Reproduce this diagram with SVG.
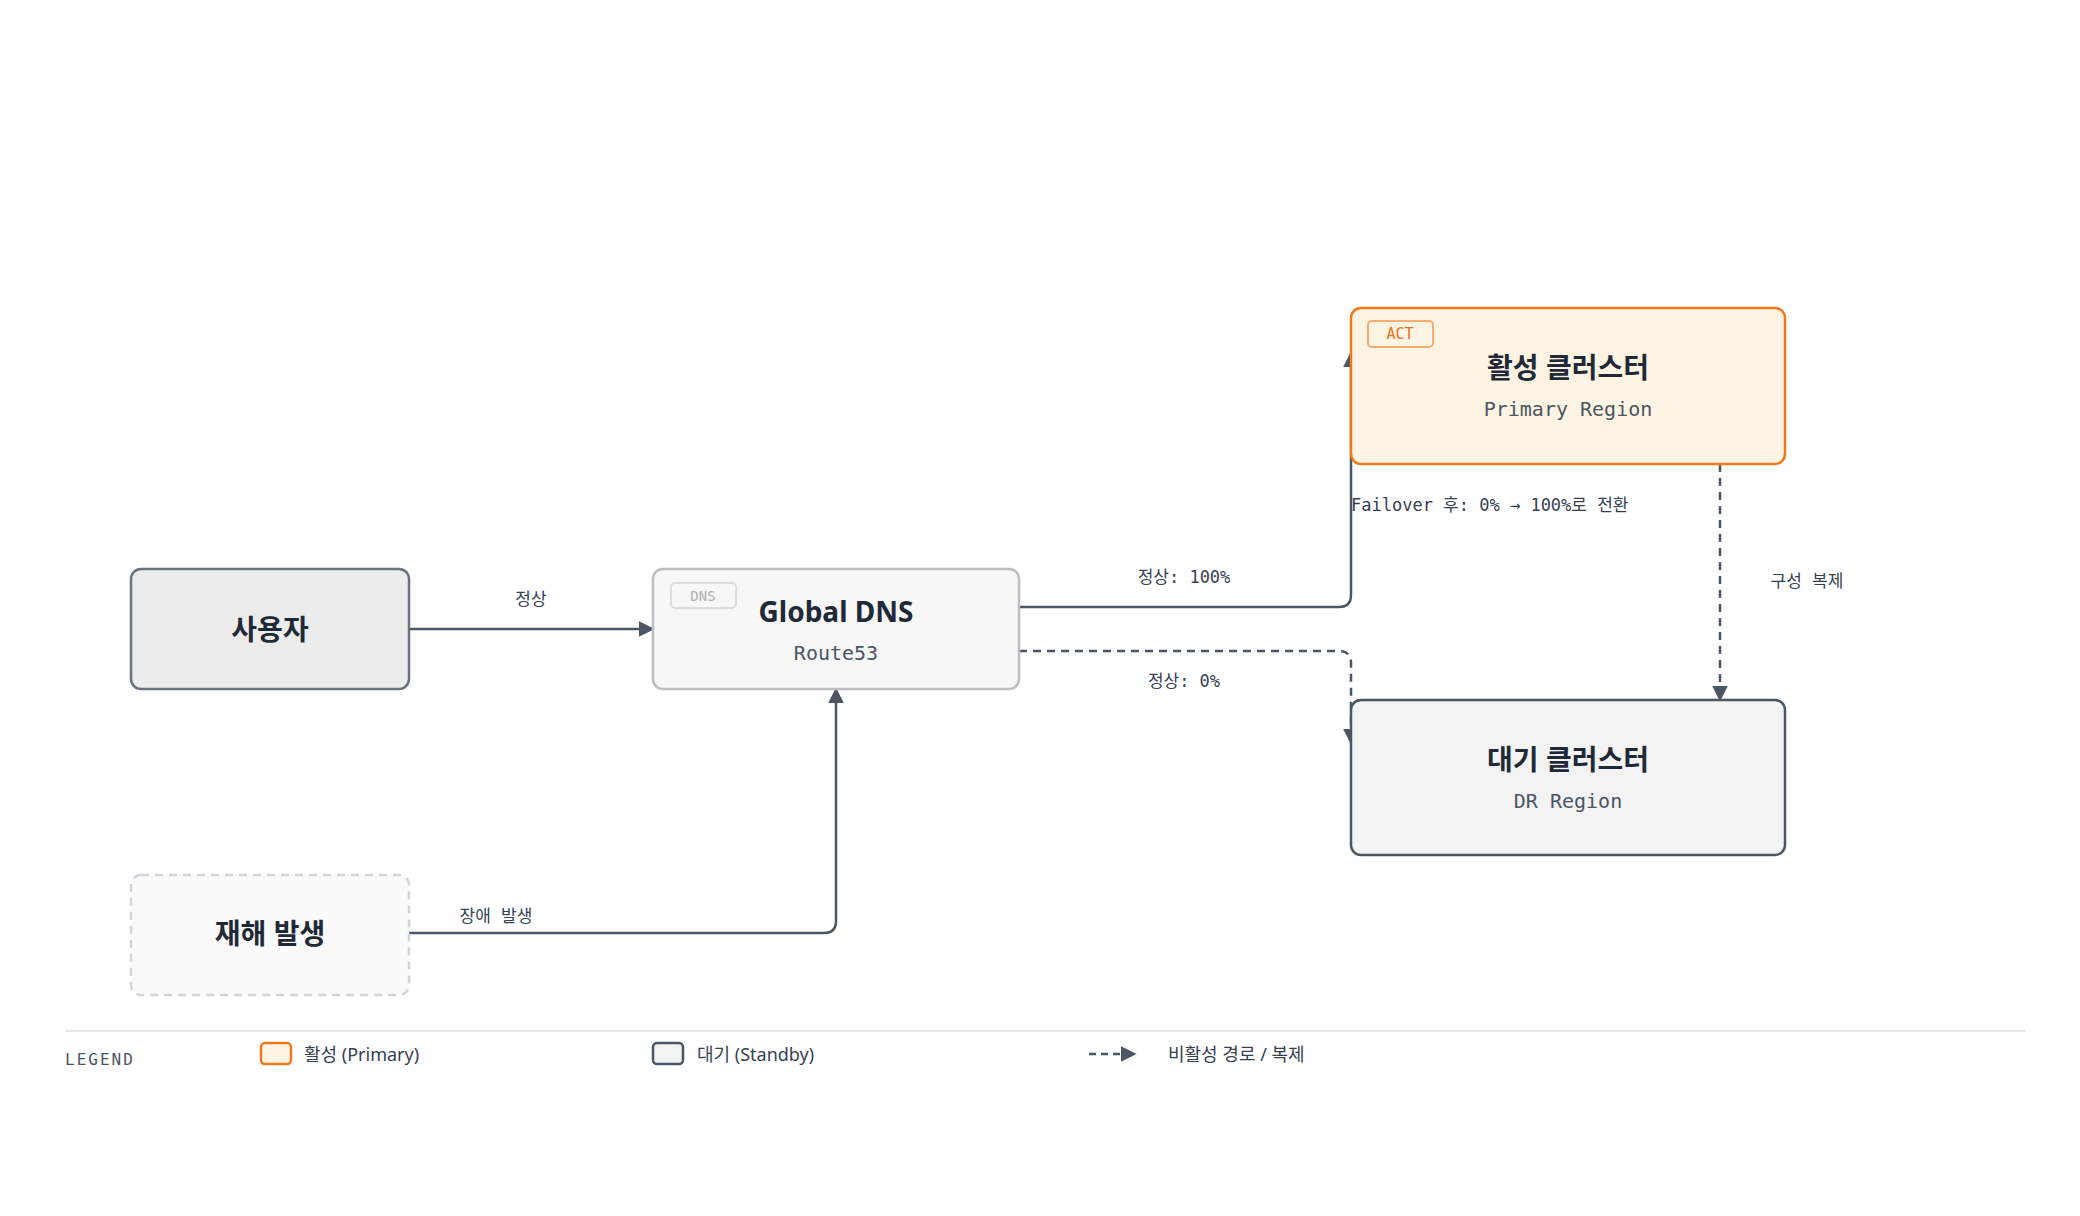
<svg xmlns="http://www.w3.org/2000/svg" width="2080" height="1216" viewBox="0 0 2080 1216">
<style>
.t{font-family:"Noto Sans","Noto Sans CJK KR",sans-serif;font-weight:700;font-size:28px;fill:#1f2937;text-anchor:middle;dominant-baseline:central}
.s{font-family:"DejaVu Sans Mono","Noto Sans CJK KR",monospace;font-size:20px;fill:#4b5563;text-anchor:middle;dominant-baseline:central}
.l{font-family:"DejaVu Sans Mono","Noto Sans CJK KR",monospace;font-size:17px;fill:#374151;text-anchor:middle;dominant-baseline:central}
.c{fill:none;stroke:#4b5563;stroke-width:2.5}
.d{stroke-dasharray:8 6}
.lg{font-family:"Noto Sans","Noto Sans CJK KR",sans-serif;font-size:18px;fill:#374151;dominant-baseline:central}
</style>
<defs><marker id="b" viewBox="0 0 10 10" refX="9" refY="5" markerWidth="16" markerHeight="16" orient="auto" markerUnits="userSpaceOnUse"><path d="M0 0L10 5L0 10z" fill="#4b5563"/></marker></defs>
<rect width="2080" height="1216" fill="#fff"/>
<g id="connectors">
<path class="c" d="M409 629H653" marker-end="url(#b)"/>
<text class="l" x="531" y="599">정상</text>
<path class="c" d="M1019 607H1339q12 0 12-12V353" marker-end="url(#b)"/>
<text class="l" x="1184" y="577">정상: 100%</text>
<text class="l" x="1351" y="505" style="text-anchor:start">Failover 후: 0% → 100%로 전환</text>
<path class="c d" d="M1019 651H1339q12 0 12 12V743" marker-end="url(#b)"/>
<text class="l" x="1184" y="681">정상: 0%</text>
<path class="c d" d="M1720 464V700" marker-end="url(#b)"/>
<text class="l" x="1807" y="581">구성 복제</text>
<path class="c" d="M409 933H824q12 0 12-12V689" marker-end="url(#b)"/>
<text class="l" x="496" y="916">장애 발생</text>
</g>
<g id="user"><rect x="131" y="569" width="278" height="120" rx="10" fill="#ececec" stroke="#6b7280" stroke-width="2.5"/><text class="t" x="270" y="629">사용자</text></g>
<g id="dns"><rect x="653" y="569" width="366" height="120" rx="10" fill="#f7f7f7" stroke="#bdbdc2" stroke-width="2.5"/>
<rect x="671" y="583" width="65" height="25" rx="4" fill="none" stroke="#dcdcdc" stroke-width="2"/><text class="l" x="703" y="596" style="fill:#b0b0b0;font-size:14px">DNS</text>
<text class="t" x="836" y="611">Global DNS</text><text class="s" x="836" y="653">Route53</text></g>
<g id="disaster"><rect x="131" y="875" width="278" height="120" rx="10" fill="#fafafa" stroke="#d1d5db" stroke-width="2.5" stroke-dasharray="8 6"/><text class="t" x="270" y="933">재해 발생</text></g>
<g id="active"><rect x="1351" y="308" width="434" height="156" rx="10" fill="#fef4e4" stroke="#f07a1a" stroke-width="2.5"/>
<rect x="1368" y="321" width="65" height="26" rx="4" fill="none" stroke="#f6ad6e" stroke-width="2"/><text class="l" x="1400" y="334" style="fill:#e8731a;font-size:15px">ACT</text>
<text class="t" x="1568" y="367">활성 클러스터</text><text class="s" x="1568" y="409">Primary Region</text></g>
<g id="standby"><rect x="1351" y="700" width="434" height="155" rx="10" fill="#f3f3f3" stroke="#4b5563" stroke-width="2.5"/>
<text class="t" x="1568" y="759">대기 클러스터</text><text class="s" x="1568" y="801">DR Region</text></g>
<g id="legend">
<path d="M65 1031H2025" stroke="#e5e7eb" stroke-width="2"/>
<text x="65" y="1059" style="font-family:'DejaVu Sans Mono',monospace;font-size:16px;fill:#4b5563;letter-spacing:2px;dominant-baseline:central">LEGEND</text>
<rect x="261" y="1043" width="30" height="21" rx="4" fill="#fef4e4" stroke="#f07a1a" stroke-width="2.5"/><text class="lg" x="304" y="1054">활성 (Primary)</text>
<rect x="653" y="1043" width="30" height="21" rx="4" fill="#f3f3f3" stroke="#4b5563" stroke-width="2.5"/><text class="lg" x="697" y="1054">대기 (Standby)</text>
<path class="c" d="M1089 1054H1135" stroke-dasharray="7 5" marker-end="url(#b)"/><text class="lg" x="1168" y="1054">비활성 경로 / 복제</text>
</g>
</svg>
